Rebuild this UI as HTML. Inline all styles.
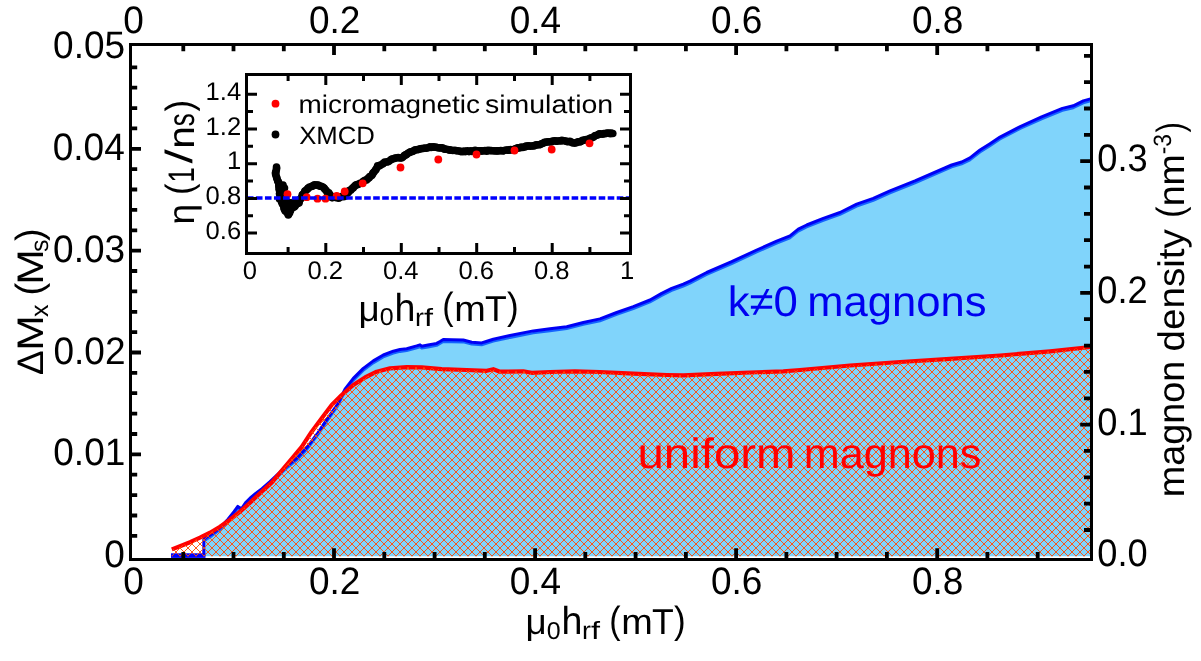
<!DOCTYPE html>
<html><head><meta charset="utf-8"><title>magnon density</title>
<style>
html,body{margin:0;padding:0;background:#fff;overflow:hidden;}
svg{display:block;}
text{font-family:"Liberation Sans", sans-serif;-webkit-font-smoothing:antialiased;text-rendering:geometricPrecision;}
svg{will-change:transform;}
</style></head><body>
<svg width="1201" height="661" viewBox="0 0 1201 661">
<defs>
<pattern id="hatch" width="8" height="8" patternUnits="userSpaceOnUse">
<path d="M-1,-1 L9,9 M-1,9 L9,-1" stroke="#ff4c04" stroke-width="0.92" fill="none"/>
</pattern>
</defs>
<rect x="0" y="0" width="1201" height="661" fill="#fff"/>
<polygon points="203.8,556.3 203.8,540.0 206.0,538.3 212.0,534.5 220.0,528.5 228.0,520.0 234.0,512.5 237.8,507.2 240.0,509.0 242.3,508.4 246.0,503.0 250.0,499.0 256.0,494.0 262.0,489.5 270.0,482.5 278.0,475.0 286.0,467.5 296.7,459.0 307.7,447.2 317.9,433.6 327.9,418.6 337.5,405.2 345.0,390.0 353.3,379.2 363.3,369.2 373.3,361.7 383.3,355.8 393.3,352.0 400.0,350.3 406.7,349.5 416.7,346.7 420.0,345.6 421.7,347.0 428.0,345.8 436.7,344.2 440.0,342.3 443.3,340.3 452.0,340.6 463.3,340.8 471.7,343.0 481.7,343.7 487.0,342.0 493.3,340.0 510.0,336.3 533.3,331.7 550.0,329.6 566.7,327.5 583.3,323.3 600.0,319.7 616.7,313.3 633.3,307.5 650.0,300.8 661.7,294.2 671.7,289.2 683.3,285.0 690.0,282.0 706.7,273.3 731.7,262.5 756.7,250.8 776.7,242.0 790.0,236.7 798.3,230.0 806.7,225.8 823.3,219.2 840.0,213.3 856.7,205.0 873.3,199.2 890.0,191.7 915.0,181.7 951.7,165.8 961.7,162.8 970.0,158.7 980.0,150.8 990.0,144.5 1000.0,137.9 1020.8,127.1 1041.6,117.7 1062.4,109.2 1073.3,106.6 1083.3,101.7 1090.5,99.7 1090.5,556.3" fill="#80d4fb"/><polyline points="203.8,541.4 206.0,539.7 212.0,535.9 220.0,529.9 228.0,521.4 234.0,513.9 237.8,508.6 240.0,510.4 242.3,509.8 246.0,504.4 250.0,500.4 256.0,495.4 262.0,490.9 270.0,483.9 278.0,476.4 286.0,468.9 296.7,460.4 307.7,448.6 317.9,435.0 327.9,420.0 337.5,406.6 345.0,391.4 353.3,380.6 363.3,370.6 373.3,363.1 383.3,357.2 393.3,353.4 400.0,351.7 406.7,350.9 416.7,348.1 420.0,347.0 421.7,348.4 428.0,347.2 436.7,345.6 440.0,343.7 443.3,341.7 452.0,342.0 463.3,342.2 471.7,344.4 481.7,345.1 487.0,343.4 493.3,341.4 510.0,337.7 533.3,333.1 550.0,331.0 566.7,328.9 583.3,324.7 600.0,321.1 616.7,314.7 633.3,308.9 650.0,302.2 661.7,295.6 671.7,290.6 683.3,286.4 690.0,283.4 706.7,274.7 731.7,263.9 756.7,252.2 776.7,243.4 790.0,238.1 798.3,231.4 806.7,227.2 823.3,220.6 840.0,214.7 856.7,206.4 873.3,200.6 890.0,193.1 915.0,183.1 951.7,167.2 961.7,164.2 970.0,160.1 980.0,152.2 990.0,145.9 1000.0,139.3 1020.8,128.5 1041.6,119.1 1062.4,110.6 1073.3,108.0 1083.3,103.1 1090.5,101.1" fill="none" stroke="#1464ff" stroke-width="2.4" stroke-linejoin="round"/><polyline points="171.5,555.6 203.8,555.6 203.8,539.2 206.0,537.5 212.0,533.7 220.0,527.7 228.0,519.2 234.0,511.7 237.8,506.4 240.0,508.2 242.3,507.6 246.0,502.2 250.0,498.2 256.0,493.2 262.0,488.7 270.0,481.7 278.0,474.2 286.0,466.7 296.7,458.2 307.7,446.4 317.9,432.8 327.9,417.8 337.5,404.4 345.0,389.2 353.3,378.4 363.3,368.4 373.3,360.9 383.3,355.0 393.3,351.2 400.0,349.5 406.7,348.7 416.7,345.9 420.0,344.8 421.7,346.2 428.0,345.0 436.7,343.4 440.0,341.5 443.3,339.5 452.0,339.8 463.3,340.0 471.7,342.2 481.7,342.9 487.0,341.2 493.3,339.2 510.0,335.5 533.3,330.9 550.0,328.8 566.7,326.7 583.3,322.5 600.0,318.9 616.7,312.5 633.3,306.7 650.0,300.0 661.7,293.4 671.7,288.4 683.3,284.2 690.0,281.2 706.7,272.5 731.7,261.7 756.7,250.0 776.7,241.2 790.0,235.9 798.3,229.2 806.7,225.0 823.3,218.4 840.0,212.5 856.7,204.2 873.3,198.4 890.0,190.9 915.0,180.9 951.7,165.0 961.7,162.0 970.0,157.9 980.0,150.0 990.0,143.7 1000.0,137.1 1020.8,126.3 1041.6,116.9 1062.4,108.4 1073.3,105.8 1083.3,100.9 1090.5,98.9" fill="none" stroke="#0000f5" stroke-width="3.0" stroke-linejoin="round"/><rect x="171" y="553.3" width="34.5" height="4.6" fill="#0000ff"/><polyline points="171.8,549.4 180.0,546.2 190.0,542.2 200.0,537.7 210.0,532.7 220.0,526.7 230.0,519.7 240.0,511.7 250.0,502.7 260.0,493.2 271.9,482.4 282.0,470.3 291.7,458.8 301.7,446.8 311.7,431.7 321.7,418.3 331.7,405.0 341.7,395.0 353.3,385.0 365.0,377.5 376.7,371.7 390.0,368.3 400.0,367.6 406.7,367.2 421.7,367.3 441.7,369.2 466.7,370.0 486.7,370.8 493.3,369.2 500.0,371.7 523.3,371.3 531.7,372.8 550.0,372.0 575.0,371.3 600.0,372.0 633.3,373.7 666.7,375.0 683.3,375.3 716.7,373.8 750.0,372.5 783.3,371.3 800.0,370.0 850.0,365.5 900.0,362.0 950.0,358.8 1000.0,355.5 1050.0,351.3 1090.5,347.0" fill="none" stroke="#ff0000" stroke-width="4.2" stroke-linejoin="round"/><polygon points="171.8,556.3 171.8,549.4 180.0,546.2 190.0,542.2 200.0,537.7 210.0,532.7 220.0,526.7 230.0,519.7 240.0,511.7 250.0,502.7 260.0,493.2 271.9,482.4 282.0,470.3 291.7,458.8 301.7,446.8 311.7,431.7 321.7,418.3 331.7,405.0 341.7,395.0 353.3,385.0 365.0,377.5 376.7,371.7 390.0,368.3 400.0,367.6 406.7,367.2 421.7,367.3 441.7,369.2 466.7,370.0 486.7,370.8 493.3,369.2 500.0,371.7 523.3,371.3 531.7,372.8 550.0,372.0 575.0,371.3 600.0,372.0 633.3,373.7 666.7,375.0 683.3,375.3 716.7,373.8 750.0,372.5 783.3,371.3 800.0,370.0 850.0,365.5 900.0,362.0 950.0,358.8 1000.0,355.5 1050.0,351.3 1090.5,347.0 1090.5,556.3" fill="url(#hatch)"/><path d="M183.3,558.0v-6.0M183.3,46.0v5.2M233.5,558.0v-6.0M233.5,46.0v5.2M283.8,558.0v-6.0M283.8,46.0v5.2M334.0,558.0v-9.8M334.0,46.0v9.0M384.3,558.0v-6.0M384.3,46.0v5.2M434.6,558.0v-6.0M434.6,46.0v5.2M484.8,558.0v-6.0M484.8,46.0v5.2M535.1,558.0v-9.8M535.1,46.0v9.0M585.3,558.0v-6.0M585.3,46.0v5.2M635.6,558.0v-6.0M635.6,46.0v5.2M685.9,558.0v-6.0M685.9,46.0v5.2M736.1,558.0v-9.8M736.1,46.0v9.0M786.4,558.0v-6.0M786.4,46.0v5.2M836.6,558.0v-6.0M836.6,46.0v5.2M886.9,558.0v-6.0M886.9,46.0v5.2M937.2,558.0v-9.8M937.2,46.0v9.0M987.4,558.0v-6.0M987.4,46.0v5.2M1037.7,558.0v-6.0M1037.7,46.0v5.2M132.0,535.8h5.2M132.0,515.5h5.2M132.0,495.1h5.2M132.0,474.7h5.2M132.0,454.4h9.0M132.0,434.0h5.2M132.0,413.6h5.2M132.0,393.2h5.2M132.0,372.9h5.2M132.0,352.5h9.0M132.0,332.1h5.2M132.0,311.8h5.2M132.0,291.4h5.2M132.0,271.0h5.2M132.0,250.7h9.0M132.0,230.3h5.2M132.0,209.9h5.2M132.0,189.5h5.2M132.0,169.2h5.2M132.0,148.8h9.0M132.0,128.4h5.2M132.0,108.1h5.2M132.0,87.7h5.2M132.0,67.3h5.2M1090.0,530.0h-6.0M1090.0,503.6h-6.0M1090.0,477.3h-6.0M1090.0,450.9h-6.0M1090.0,424.6h-9.8M1090.0,398.3h-6.0M1090.0,371.9h-6.0M1090.0,345.6h-6.0M1090.0,319.2h-6.0M1090.0,292.9h-9.8M1090.0,266.6h-6.0M1090.0,240.2h-6.0M1090.0,213.9h-6.0M1090.0,187.5h-6.0M1090.0,161.2h-9.8M1090.0,134.9h-6.0M1090.0,108.5h-6.0M1090.0,82.2h-6.0M1090.0,55.8h-6.0" stroke="#000" stroke-width="3.8" fill="none"/><rect x="130.5" y="44.5" width="961.0" height="515.0" fill="none" stroke="#000" stroke-width="3"/><text x="53.12" y="57.95" font-size="38.3" textLength="72.01" lengthAdjust="spacingAndGlyphs">0.05</text><text x="52.74" y="159.80" font-size="38.3" textLength="72.01" lengthAdjust="spacingAndGlyphs">0.04</text><text x="53.12" y="261.65" font-size="38.3" textLength="72.01" lengthAdjust="spacingAndGlyphs">0.03</text><text x="53.48" y="363.50" font-size="38.3" textLength="72.01" lengthAdjust="spacingAndGlyphs">0.02</text><text x="53.30" y="465.35" font-size="38.3" textLength="72.01" lengthAdjust="spacingAndGlyphs">0.01</text><text x="104.36" y="567.20" font-size="38.3" textLength="20.58" lengthAdjust="spacingAndGlyphs">0</text><text x="1097.35" y="171.10" font-size="38.3" textLength="50.41" lengthAdjust="spacingAndGlyphs">0.3</text><text x="1097.35" y="302.80" font-size="38.3" textLength="50.41" lengthAdjust="spacingAndGlyphs">0.2</text><text x="1097.35" y="434.50" font-size="38.3" textLength="50.41" lengthAdjust="spacingAndGlyphs">0.1</text><text x="1097.35" y="566.20" font-size="38.3" textLength="50.41" lengthAdjust="spacingAndGlyphs">0.0</text><text x="123.14" y="33.20" font-size="38.3" textLength="20.58" lengthAdjust="spacingAndGlyphs">0</text><text x="123.14" y="593.50" font-size="38.3" textLength="20.58" lengthAdjust="spacingAndGlyphs">0</text><text x="309.01" y="33.20" font-size="38.3" textLength="51.44" lengthAdjust="spacingAndGlyphs">0.2</text><text x="309.01" y="593.50" font-size="38.3" textLength="51.44" lengthAdjust="spacingAndGlyphs">0.2</text><text x="509.68" y="33.20" font-size="38.3" textLength="51.44" lengthAdjust="spacingAndGlyphs">0.4</text><text x="509.68" y="593.50" font-size="38.3" textLength="51.44" lengthAdjust="spacingAndGlyphs">0.4</text><text x="710.90" y="33.20" font-size="38.3" textLength="51.44" lengthAdjust="spacingAndGlyphs">0.6</text><text x="710.90" y="593.50" font-size="38.3" textLength="51.44" lengthAdjust="spacingAndGlyphs">0.6</text><text x="911.95" y="33.20" font-size="38.3" textLength="51.44" lengthAdjust="spacingAndGlyphs">0.8</text><text x="911.95" y="593.50" font-size="38.3" textLength="51.44" lengthAdjust="spacingAndGlyphs">0.8</text><text x="525.41" y="634.40" font-size="36" textLength="21.21" lengthAdjust="spacingAndGlyphs">μ</text><text x="546.70" y="638.60" font-size="24.5" textLength="13.90" lengthAdjust="spacingAndGlyphs">0</text><text x="561.57" y="634.40" font-size="39" textLength="20.92" lengthAdjust="spacingAndGlyphs">h</text><text x="581.96" y="639.20" font-size="25" textLength="8.93" lengthAdjust="spacingAndGlyphs">r</text><text x="591.11" y="639.20" font-size="25" textLength="9.02" lengthAdjust="spacingAndGlyphs">f</text><text x="609.36" y="632.60" font-size="38" textLength="11.31" lengthAdjust="spacingAndGlyphs">(</text><text x="621.24" y="634.40" font-size="36" textLength="31.55" lengthAdjust="spacingAndGlyphs">m</text><text x="651.89" y="634.40" font-size="36" textLength="21.76" lengthAdjust="spacingAndGlyphs">T</text><text x="673.92" y="632.60" font-size="38" textLength="11.69" lengthAdjust="spacingAndGlyphs">)</text><text x="358.41" y="321.20" font-size="36" textLength="21.21" lengthAdjust="spacingAndGlyphs">μ</text><text x="379.70" y="325.40" font-size="24.5" textLength="13.90" lengthAdjust="spacingAndGlyphs">0</text><text x="394.57" y="321.20" font-size="39" textLength="20.92" lengthAdjust="spacingAndGlyphs">h</text><text x="414.96" y="326.00" font-size="25" textLength="8.93" lengthAdjust="spacingAndGlyphs">r</text><text x="424.11" y="326.00" font-size="25" textLength="9.02" lengthAdjust="spacingAndGlyphs">f</text><text x="442.36" y="319.40" font-size="38" textLength="11.31" lengthAdjust="spacingAndGlyphs">(</text><text x="454.24" y="321.20" font-size="36" textLength="31.55" lengthAdjust="spacingAndGlyphs">m</text><text x="484.89" y="321.20" font-size="36" textLength="21.76" lengthAdjust="spacingAndGlyphs">T</text><text x="506.92" y="319.40" font-size="38" textLength="11.69" lengthAdjust="spacingAndGlyphs">)</text><g transform="translate(43,375) rotate(-90)"><text x="0" y="0" font-size="37">Δ</text><text x="24.2" y="0" font-size="37" textLength="35.6" lengthAdjust="spacingAndGlyphs">M</text><text x="58" y="5" font-size="25">x</text><text x="79.5" y="-1.5" font-size="38">(</text><text x="90.2" y="0" font-size="37" textLength="35.6" lengthAdjust="spacingAndGlyphs">M</text><text x="123" y="5" font-size="25">s</text><text x="134" y="-1.5" font-size="38">)</text></g><g transform="translate(1184,498) rotate(-90)"><text x="0.85" y="0.00" font-size="37" textLength="136.36" lengthAdjust="spacingAndGlyphs">magnon</text><text x="146.56" y="0.00" font-size="37" textLength="122.29" lengthAdjust="spacingAndGlyphs">density</text><text x="280.12" y="-1.50" font-size="38" textLength="11.56" lengthAdjust="spacingAndGlyphs">(</text><text x="291.65" y="0.00" font-size="37" textLength="52.26" lengthAdjust="spacingAndGlyphs">nm</text><text x="343.78" y="-13.30" font-size="25" textLength="20.21" lengthAdjust="spacingAndGlyphs">-3</text><text x="365.44" y="-1.50" font-size="38" textLength="10.43" lengthAdjust="spacingAndGlyphs">)</text></g><text x="727.66" y="316.30" font-size="42.5" textLength="70.17" lengthAdjust="spacingAndGlyphs" fill="#0000f0">k≠0</text><text x="807.17" y="316.30" font-size="42.5" textLength="179.31" lengthAdjust="spacingAndGlyphs" fill="#0000f0">magnons</text><text x="637.52" y="468.10" font-size="42.5" textLength="158.04" lengthAdjust="spacingAndGlyphs" fill="#ff0000">uniform</text><text x="803.89" y="468.10" font-size="42.5" textLength="177.57" lengthAdjust="spacingAndGlyphs" fill="#ff0000">magnons</text><rect x="246.5" y="74.5" width="384.0" height="179.0" fill="#fff" stroke="none"/><g fill="#000"><circle cx="276.5" cy="167.1" r="3.8"/><circle cx="276.6" cy="168.6" r="3.8"/><circle cx="276.2" cy="170.5" r="3.8"/><circle cx="275.6" cy="172.3" r="3.8"/><circle cx="275.5" cy="173.7" r="3.8"/><circle cx="275.9" cy="174.9" r="3.8"/><circle cx="276.6" cy="177.3" r="3.8"/><circle cx="276.8" cy="178.2" r="3.8"/><circle cx="277.6" cy="180.5" r="3.8"/><circle cx="278.0" cy="181.5" r="3.8"/><circle cx="278.7" cy="182.6" r="3.8"/><circle cx="279.0" cy="184.4" r="3.8"/><circle cx="278.8" cy="185.8" r="3.8"/><circle cx="279.1" cy="188.1" r="3.8"/><circle cx="279.2" cy="189.5" r="3.8"/><circle cx="279.7" cy="190.8" r="3.8"/><circle cx="279.8" cy="192.1" r="3.8"/><circle cx="279.5" cy="193.8" r="3.8"/><circle cx="280.4" cy="195.7" r="3.8"/><circle cx="280.4" cy="197.4" r="3.8"/><circle cx="280.9" cy="198.6" r="3.8"/><circle cx="281.6" cy="200.6" r="3.8"/><circle cx="281.6" cy="202.0" r="3.8"/><circle cx="282.4" cy="203.8" r="3.8"/><circle cx="283.1" cy="204.7" r="3.8"/><circle cx="283.9" cy="206.0" r="3.8"/><circle cx="284.0" cy="208.2" r="3.8"/><circle cx="284.5" cy="209.3" r="3.8"/><circle cx="285.2" cy="210.9" r="3.8"/><circle cx="286.7" cy="212.1" r="3.8"/><circle cx="287.7" cy="213.2" r="3.8"/><circle cx="288.3" cy="214.9" r="3.8"/><circle cx="288.8" cy="213.7" r="3.8"/><circle cx="289.6" cy="212.7" r="3.8"/><circle cx="289.9" cy="210.9" r="3.8"/><circle cx="290.1" cy="209.5" r="3.8"/><circle cx="291.5" cy="208.6" r="3.8"/><circle cx="293.1" cy="207.3" r="3.8"/><circle cx="294.2" cy="207.1" r="3.8"/><circle cx="295.1" cy="205.9" r="3.8"/><circle cx="296.2" cy="204.3" r="3.8"/><circle cx="297.1" cy="203.7" r="3.8"/><circle cx="298.1" cy="201.9" r="3.8"/><circle cx="299.3" cy="201.3" r="3.8"/><circle cx="299.9" cy="199.5" r="3.8"/><circle cx="301.0" cy="198.5" r="3.8"/><circle cx="301.9" cy="197.0" r="3.8"/><circle cx="302.2" cy="195.1" r="3.8"/><circle cx="302.9" cy="194.2" r="3.8"/><circle cx="304.5" cy="192.2" r="3.8"/><circle cx="304.9" cy="191.1" r="3.8"/><circle cx="306.1" cy="190.3" r="3.8"/><circle cx="307.6" cy="188.9" r="3.8"/><circle cx="308.2" cy="188.0" r="3.8"/><circle cx="309.6" cy="187.0" r="3.8"/><circle cx="311.6" cy="186.5" r="3.8"/><circle cx="312.7" cy="185.9" r="3.8"/><circle cx="314.4" cy="184.8" r="3.8"/><circle cx="316.1" cy="185.1" r="3.8"/><circle cx="317.6" cy="185.1" r="3.8"/><circle cx="318.6" cy="185.3" r="3.8"/><circle cx="319.8" cy="186.2" r="3.8"/><circle cx="321.2" cy="186.3" r="3.8"/><circle cx="322.8" cy="187.0" r="3.8"/><circle cx="324.1" cy="188.0" r="3.8"/><circle cx="324.9" cy="189.2" r="3.8"/><circle cx="326.2" cy="190.6" r="3.8"/><circle cx="327.2" cy="192.3" r="3.8"/><circle cx="328.8" cy="192.7" r="3.8"/><circle cx="329.4" cy="194.2" r="3.8"/><circle cx="330.4" cy="195.3" r="3.8"/><circle cx="331.7" cy="197.6" r="3.8"/><circle cx="332.7" cy="197.6" r="3.8"/><circle cx="334.0" cy="197.3" r="3.8"/><circle cx="335.8" cy="197.6" r="3.8"/><circle cx="337.8" cy="197.6" r="3.8"/><circle cx="338.7" cy="198.2" r="3.8"/><circle cx="340.6" cy="196.9" r="3.8"/><circle cx="342.2" cy="196.2" r="3.8"/><circle cx="343.7" cy="196.8" r="3.8"/><circle cx="345.4" cy="195.9" r="3.8"/><circle cx="346.0" cy="194.3" r="3.8"/><circle cx="346.9" cy="193.6" r="3.8"/><circle cx="348.3" cy="192.4" r="3.8"/><circle cx="349.2" cy="190.6" r="3.8"/><circle cx="350.7" cy="190.2" r="3.8"/><circle cx="351.8" cy="188.8" r="3.8"/><circle cx="353.1" cy="187.9" r="3.8"/><circle cx="353.9" cy="186.8" r="3.8"/><circle cx="355.4" cy="185.4" r="3.8"/><circle cx="356.5" cy="184.8" r="3.8"/><circle cx="358.0" cy="184.4" r="3.8"/><circle cx="360.1" cy="183.4" r="3.8"/><circle cx="361.5" cy="183.3" r="3.8"/><circle cx="362.9" cy="181.9" r="3.8"/><circle cx="363.7" cy="181.0" r="3.8"/><circle cx="365.1" cy="180.2" r="3.8"/><circle cx="366.6" cy="179.9" r="3.8"/><circle cx="368.1" cy="178.4" r="3.8"/><circle cx="369.1" cy="177.7" r="3.8"/><circle cx="369.8" cy="176.5" r="3.8"/><circle cx="371.7" cy="175.6" r="3.8"/><circle cx="372.6" cy="174.0" r="3.8"/><circle cx="373.0" cy="173.1" r="3.8"/><circle cx="374.1" cy="171.8" r="3.8"/><circle cx="375.6" cy="170.0" r="3.8"/><circle cx="376.0" cy="169.3" r="3.8"/><circle cx="377.2" cy="167.2" r="3.8"/><circle cx="377.6" cy="165.9" r="3.8"/><circle cx="379.6" cy="165.7" r="3.8"/><circle cx="380.4" cy="165.0" r="3.8"/><circle cx="382.6" cy="164.1" r="3.8"/><circle cx="383.4" cy="163.3" r="3.8"/><circle cx="384.7" cy="162.0" r="3.8"/><circle cx="386.9" cy="162.0" r="3.8"/><circle cx="387.9" cy="161.7" r="3.8"/><circle cx="389.3" cy="161.0" r="3.8"/><circle cx="391.1" cy="159.6" r="3.8"/><circle cx="392.1" cy="159.1" r="3.8"/><circle cx="393.6" cy="158.8" r="3.8"/><circle cx="395.1" cy="158.0" r="3.8"/><circle cx="396.4" cy="158.0" r="3.8"/><circle cx="398.2" cy="157.5" r="3.8"/><circle cx="400.0" cy="157.9" r="3.8"/><circle cx="401.5" cy="158.0" r="3.8"/><circle cx="403.0" cy="157.1" r="3.8"/><circle cx="404.3" cy="155.6" r="3.8"/><circle cx="405.6" cy="154.9" r="3.8"/><circle cx="406.5" cy="154.6" r="3.8"/><circle cx="407.9" cy="153.3" r="3.8"/><circle cx="409.7" cy="152.4" r="3.8"/><circle cx="410.7" cy="151.7" r="3.8"/><circle cx="412.5" cy="151.5" r="3.8"/><circle cx="413.6" cy="150.7" r="3.8"/><circle cx="415.2" cy="149.9" r="3.8"/><circle cx="417.2" cy="149.7" r="3.8"/><circle cx="418.5" cy="149.4" r="3.8"/><circle cx="420.4" cy="148.8" r="3.8"/><circle cx="421.7" cy="148.6" r="3.8"/><circle cx="423.2" cy="148.5" r="3.8"/><circle cx="424.7" cy="148.0" r="3.8"/><circle cx="426.3" cy="148.2" r="3.8"/><circle cx="428.1" cy="147.8" r="3.8"/><circle cx="429.9" cy="146.8" r="3.8"/><circle cx="431.1" cy="147.5" r="3.8"/><circle cx="433.0" cy="146.7" r="3.8"/><circle cx="433.9" cy="147.2" r="3.8"/><circle cx="435.5" cy="147.0" r="3.8"/><circle cx="437.1" cy="147.6" r="3.8"/><circle cx="439.3" cy="147.9" r="3.8"/><circle cx="440.3" cy="147.9" r="3.8"/><circle cx="442.4" cy="147.7" r="3.8"/><circle cx="444.1" cy="148.9" r="3.8"/><circle cx="445.1" cy="149.3" r="3.8"/><circle cx="446.8" cy="149.2" r="3.8"/><circle cx="448.9" cy="150.0" r="3.8"/><circle cx="449.7" cy="149.9" r="3.8"/><circle cx="451.5" cy="150.2" r="3.8"/><circle cx="452.8" cy="150.5" r="3.8"/><circle cx="454.9" cy="150.3" r="3.8"/><circle cx="456.3" cy="150.8" r="3.8"/><circle cx="457.4" cy="150.8" r="3.8"/><circle cx="459.6" cy="151.0" r="3.8"/><circle cx="460.7" cy="151.6" r="3.8"/><circle cx="462.9" cy="151.7" r="3.8"/><circle cx="463.9" cy="151.0" r="3.8"/><circle cx="465.5" cy="151.6" r="3.8"/><circle cx="467.3" cy="150.9" r="3.8"/><circle cx="469.0" cy="151.6" r="3.8"/><circle cx="470.9" cy="150.8" r="3.8"/><circle cx="471.9" cy="151.5" r="3.8"/><circle cx="473.9" cy="151.1" r="3.8"/><circle cx="475.1" cy="150.3" r="3.8"/><circle cx="477.2" cy="150.7" r="3.8"/><circle cx="478.3" cy="151.1" r="3.8"/><circle cx="480.4" cy="150.9" r="3.8"/><circle cx="481.5" cy="150.9" r="3.8"/><circle cx="483.1" cy="151.0" r="3.8"/><circle cx="485.0" cy="150.5" r="3.8"/><circle cx="486.7" cy="151.2" r="3.8"/><circle cx="488.0" cy="150.4" r="3.8"/><circle cx="489.9" cy="150.6" r="3.8"/><circle cx="491.1" cy="150.6" r="3.8"/><circle cx="492.6" cy="150.7" r="3.8"/><circle cx="494.5" cy="150.9" r="3.8"/><circle cx="496.5" cy="150.9" r="3.8"/><circle cx="497.8" cy="150.9" r="3.8"/><circle cx="499.3" cy="150.7" r="3.8"/><circle cx="500.8" cy="150.6" r="3.8"/><circle cx="502.8" cy="150.9" r="3.8"/><circle cx="503.9" cy="150.6" r="3.8"/><circle cx="506.1" cy="150.0" r="3.8"/><circle cx="507.6" cy="150.1" r="3.8"/><circle cx="508.9" cy="150.3" r="3.8"/><circle cx="510.4" cy="149.6" r="3.8"/><circle cx="512.2" cy="149.9" r="3.8"/><circle cx="513.5" cy="149.5" r="3.8"/><circle cx="515.4" cy="148.9" r="3.8"/><circle cx="516.7" cy="148.3" r="3.8"/><circle cx="517.9" cy="147.7" r="3.8"/><circle cx="519.5" cy="148.0" r="3.8"/><circle cx="521.3" cy="147.1" r="3.8"/><circle cx="522.7" cy="147.5" r="3.8"/><circle cx="524.9" cy="146.9" r="3.8"/><circle cx="526.0" cy="146.1" r="3.8"/><circle cx="527.6" cy="146.1" r="3.8"/><circle cx="529.0" cy="145.9" r="3.8"/><circle cx="530.7" cy="146.3" r="3.8"/><circle cx="532.9" cy="145.7" r="3.8"/><circle cx="533.9" cy="145.9" r="3.8"/><circle cx="535.5" cy="145.1" r="3.8"/><circle cx="536.8" cy="144.9" r="3.8"/><circle cx="538.8" cy="144.8" r="3.8"/><circle cx="540.2" cy="144.6" r="3.8"/><circle cx="541.5" cy="143.7" r="3.8"/><circle cx="543.1" cy="143.3" r="3.8"/><circle cx="544.5" cy="142.4" r="3.8"/><circle cx="546.3" cy="142.1" r="3.8"/><circle cx="548.0" cy="141.9" r="3.8"/><circle cx="549.8" cy="141.8" r="3.8"/><circle cx="551.3" cy="141.9" r="3.8"/><circle cx="552.6" cy="141.1" r="3.8"/><circle cx="554.7" cy="140.8" r="3.8"/><circle cx="556.1" cy="141.1" r="3.8"/><circle cx="557.1" cy="141.2" r="3.8"/><circle cx="559.4" cy="140.8" r="3.8"/><circle cx="560.9" cy="140.9" r="3.8"/><circle cx="561.9" cy="140.4" r="3.8"/><circle cx="563.9" cy="140.8" r="3.8"/><circle cx="565.7" cy="141.1" r="3.8"/><circle cx="567.0" cy="141.6" r="3.8"/><circle cx="568.7" cy="141.7" r="3.8"/><circle cx="569.8" cy="141.4" r="3.8"/><circle cx="571.3" cy="142.1" r="3.8"/><circle cx="572.8" cy="143.0" r="3.8"/><circle cx="574.8" cy="143.1" r="3.8"/><circle cx="576.4" cy="142.8" r="3.8"/><circle cx="577.8" cy="141.7" r="3.8"/><circle cx="579.7" cy="142.0" r="3.8"/><circle cx="580.9" cy="141.4" r="3.8"/><circle cx="582.6" cy="140.4" r="3.8"/><circle cx="584.2" cy="140.2" r="3.8"/><circle cx="585.2" cy="139.8" r="3.8"/><circle cx="587.3" cy="139.2" r="3.8"/><circle cx="588.8" cy="139.5" r="3.8"/><circle cx="590.0" cy="138.2" r="3.8"/><circle cx="591.5" cy="137.9" r="3.8"/><circle cx="593.2" cy="137.2" r="3.8"/><circle cx="594.6" cy="136.0" r="3.8"/><circle cx="595.6" cy="135.6" r="3.8"/><circle cx="597.6" cy="135.1" r="3.8"/><circle cx="599.0" cy="134.1" r="3.8"/><circle cx="600.0" cy="133.9" r="3.8"/><circle cx="602.2" cy="134.2" r="3.8"/><circle cx="603.8" cy="133.6" r="3.8"/><circle cx="605.2" cy="133.7" r="3.8"/><circle cx="606.7" cy="133.1" r="3.8"/><circle cx="608.7" cy="133.1" r="3.8"/><circle cx="610.4" cy="133.7" r="3.8"/><circle cx="611.1" cy="133.0" r="3.8"/><circle cx="612.8" cy="133.5" r="3.8"/><circle cx="283.0" cy="185.0" r="3.8"/><circle cx="282.5" cy="190.0" r="3.8"/><circle cx="282.0" cy="195.0" r="3.8"/><circle cx="282.5" cy="200.0" r="3.8"/><circle cx="284.0" cy="204.0" r="3.8"/><circle cx="286.5" cy="206.0" r="3.8"/><circle cx="289.0" cy="207.0" r="3.8"/><circle cx="292.0" cy="206.0" r="3.8"/><circle cx="296.0" cy="204.0" r="3.8"/><circle cx="299.0" cy="203.0" r="3.8"/><circle cx="287.0" cy="211.0" r="3.8"/><circle cx="290.5" cy="210.5" r="3.8"/><circle cx="285.0" cy="209.0" r="3.8"/><circle cx="285.0" cy="200.0" r="3.8"/><circle cx="288.0" cy="202.0" r="3.8"/><circle cx="291.0" cy="203.0" r="3.8"/><circle cx="294.5" cy="201.5" r="3.8"/><circle cx="297.5" cy="201.0" r="3.8"/><circle cx="279.5" cy="199.0" r="3.8"/><circle cx="284.5" cy="188.0" r="3.8"/></g><g fill="#ff0000"><circle cx="287.5" cy="194.2" r="3.9"/><circle cx="306.7" cy="197.2" r="3.9"/><circle cx="317.5" cy="198.7" r="3.9"/><circle cx="325.5" cy="198.7" r="3.9"/><circle cx="336.7" cy="195.8" r="3.9"/><circle cx="344.7" cy="191.5" r="3.9"/><circle cx="362.7" cy="183.3" r="3.9"/><circle cx="400.5" cy="167.5" r="3.9"/><circle cx="438.3" cy="159.5" r="3.9"/><circle cx="476.5" cy="154.5" r="3.9"/><circle cx="514.5" cy="150.5" r="3.9"/><circle cx="551.7" cy="149.5" r="3.9"/><circle cx="589.5" cy="143.3" r="3.9"/></g><path d="M246.9,198.1H629.0" stroke="#0000ff" stroke-width="3.5" stroke-dasharray="6.6 2.42" fill="none"/><circle cx="275.5" cy="103.7" r="3.9" fill="#ff0000"/><circle cx="275.5" cy="134.5" r="3.9" fill="#000"/><text x="298.49" y="113.00" font-size="25.5" textLength="181.47" lengthAdjust="spacingAndGlyphs">micromagnetic</text><text x="484.95" y="113.00" font-size="25.5" textLength="128.27" lengthAdjust="spacingAndGlyphs">simulation</text><text x="299.16" y="144.00" font-size="25" textLength="75.71" lengthAdjust="spacingAndGlyphs">XMCD</text><path d="M288.1,252.0v-5M288.1,76.0v5M325.8,252.0v-9M325.8,76.0v9M363.5,252.0v-5M363.5,76.0v5M401.3,252.0v-9M401.3,76.0v9M439.0,252.0v-5M439.0,76.0v5M476.7,252.0v-9M476.7,76.0v9M514.5,252.0v-5M514.5,76.0v5M552.2,252.0v-9M552.2,76.0v9M589.9,252.0v-5M589.9,76.0v5M248.0,233.1h9M629.0,233.1h-9M248.0,215.7h5M629.0,215.7h-5M248.0,198.4h9M629.0,198.4h-9M248.0,181.0h5M629.0,181.0h-5M248.0,163.7h9M629.0,163.7h-9M248.0,146.3h5M629.0,146.3h-5M248.0,129.0h9M629.0,129.0h-9M248.0,111.6h5M629.0,111.6h-5M248.0,94.3h9M629.0,94.3h-9" stroke="#000" stroke-width="3" fill="none"/><rect x="246.5" y="74.5" width="384.0" height="179.0" fill="none" stroke="#000" stroke-width="3"/><text x="241.2" y="100.0" font-size="25.6" text-anchor="end">1.4</text><text x="241.2" y="134.7" font-size="25.6" text-anchor="end">1.2</text><text x="241.2" y="169.4" font-size="25.6" text-anchor="end">1</text><text x="241.2" y="204.1" font-size="25.6" text-anchor="end">0.8</text><text x="241.2" y="238.8" font-size="25.6" text-anchor="end">0.6</text><text x="249.8" y="279.2" font-size="25.6" text-anchor="middle">0</text><text x="325.3" y="279.2" font-size="25.6" text-anchor="middle">0.2</text><text x="400.8" y="279.2" font-size="25.6" text-anchor="middle">0.4</text><text x="476.2" y="279.2" font-size="25.6" text-anchor="middle">0.6</text><text x="551.7" y="279.2" font-size="25.6" text-anchor="middle">0.8</text><text x="627.1" y="279.2" font-size="25.6" text-anchor="middle">1</text><g transform="translate(193.8,224) rotate(-90)"><text x="-0.46" y="0.00" font-size="37" textLength="20.73" lengthAdjust="spacingAndGlyphs">η</text><text x="28.92" y="-1.80" font-size="38" textLength="11.56" lengthAdjust="spacingAndGlyphs">(</text><text x="41.20" y="0.00" font-size="37" textLength="15.60" lengthAdjust="spacingAndGlyphs">1</text><text x="60.60" y="-1.50" font-size="38" textLength="14.19" lengthAdjust="spacingAndGlyphs">/</text><text x="75.35" y="0.00" font-size="37" textLength="22.64" lengthAdjust="spacingAndGlyphs">n</text><text x="97.63" y="0.00" font-size="37" textLength="12.87" lengthAdjust="spacingAndGlyphs">s</text><text x="112.53" y="-1.80" font-size="38" textLength="11.56" lengthAdjust="spacingAndGlyphs">)</text></g></svg></body></html>
